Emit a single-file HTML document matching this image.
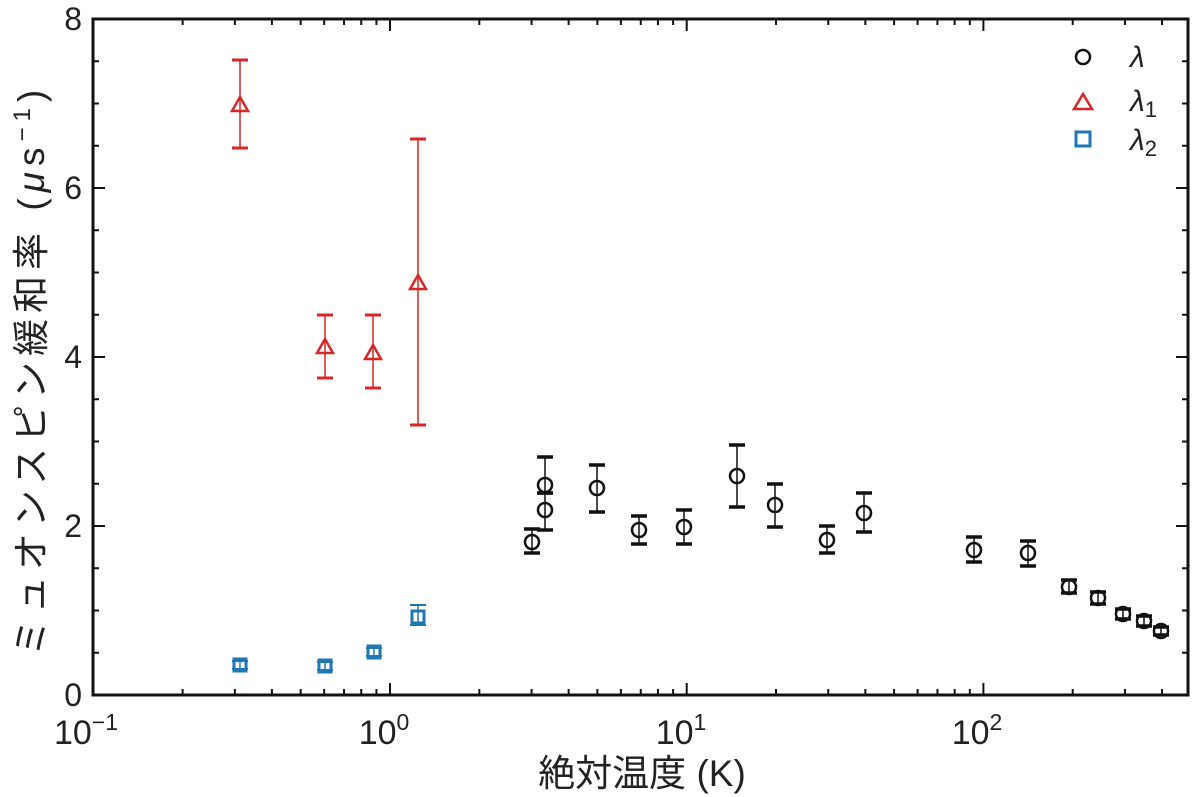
<!DOCTYPE html>
<html><head><meta charset="utf-8"><style>body{margin:0;background:#fff}svg{display:block}</style></head>
<body>
<svg width="1200" height="797" viewBox="0 0 1200 797" xmlns="http://www.w3.org/2000/svg" font-family="Liberation Sans, Noto Sans CJK JP, sans-serif">
<g id="ticks" stroke="#111" stroke-width="2"></g>
<rect x="93" y="19" width="1095" height="676" fill="none" stroke="#111" stroke-width="3"/>
<g font-size="32" fill="#222" text-anchor="end">
<text x="82" y="706">0</text><text x="82" y="537">2</text><text x="82" y="368">4</text><text x="82" y="199">6</text><text x="82" y="30">8</text>
</g>
<g font-size="34" fill="#222" text-anchor="middle">
<text x="86" y="744">10<tspan font-size="23" dy="-14">−1</tspan></text>
<text x="384" y="744">10<tspan font-size="23" dy="-14">0</tspan></text>
<text x="681" y="744">10<tspan font-size="23" dy="-14">1</tspan></text>
<text x="977" y="744">10<tspan font-size="23" dy="-14">2</tspan></text>
</g>
<text x="642" y="786" font-size="37" fill="#222" text-anchor="middle">絶対温度 (K)</text>
<text transform="translate(44,370) rotate(-90)" font-size="37" letter-spacing="6" fill="#222" text-anchor="middle">ミュオンスピン緩和率 (<tspan font-style="italic">μ</tspan>s<tspan font-size="24" dy="-14">−1</tspan><tspan dy="14">)</tspan></text>
<g id="data"></g>
<g font-size="30" font-style="italic" fill="#222">
<circle cx="1083" cy="57" r="7" fill="none" stroke="#111" stroke-width="2.5"/>
<text x="1130" y="67">λ</text>
<polygon points="1083,94 1092,109 1074,109" fill="none" stroke="#d62728" stroke-width="2.5"/>
<text x="1130" y="111">λ<tspan font-style="normal" font-size="22" dy="6">1</tspan></text>
<rect x="1076" y="132" width="14" height="14" fill="none" stroke="#1f77b4" stroke-width="3"/>
<text x="1130" y="150">λ<tspan font-style="normal" font-size="22" dy="6">2</tspan></text>
</g>
</svg>
<script>
const NS="http://www.w3.org/2000/svg";
function el(p,t,a){const e=document.createElementNS(NS,t);for(const k in a)e.setAttribute(k,a[k]);p.appendChild(e);return e;}
const tk=document.getElementById('ticks');
for(let i=1;i<16;i++){const y=695-i*42.25;const L=(i%4==0)?12:6;
el(tk,'line',{x1:93,x2:93+L,y1:y,y2:y});el(tk,'line',{x1:1188,x2:1188-L,y1:y,y2:y});}
const D=296.7;
for(let d=-1;d<3;d++)for(let m=1;m<10;m++){const x=390+(d+Math.log10(m))*D;if(x<=93||x>=1188)continue;const L=m==1?12:6;
el(tk,'line',{x1:x,x2:x,y1:695,y2:695-L});el(tk,'line',{x1:x,x2:x,y1:19,y2:19+L});}
const g=document.getElementById('data');
function eb(x,t,b,c,w){el(g,'line',{x1:x,x2:x,y1:t,y2:b,stroke:c,'stroke-width':1.5});
el(g,'line',{x1:x-8,x2:x+8,y1:t,y2:t,stroke:c,'stroke-width':w});el(g,'line',{x1:x-8,x2:x+8,y1:b,y2:b,stroke:c,'stroke-width':w});}
const red='#d62728',blue='#1f77b4';
[[240,105,60,148],[325,347,315,378],[373,353,315,388],[418,283,139,425]].forEach(p=>{eb(p[0],p[2],p[3],red,3);
el(g,'polygon',{points:`${p[0]},${p[1]-8} ${p[0]+8},${p[1]+6} ${p[0]-8},${p[1]+6}`,fill:'none',stroke:red,'stroke-width':2.5});});
[[240,665,661,669],[325,666,662,670],[374,652,648,656],[418,617,605,625]].forEach(p=>{eb(p[0],p[2],p[3],blue,2);
el(g,'rect',{x:p[0]-6,y:p[1]-6,width:12,height:12,fill:'none',stroke:blue,'stroke-width':3});});
[[532,542,529,553],[545,485,457,493],[545,510,493,530],[597,488,465,512],[639,530,516,544],[684,527,510,544],[737,476,445,507],[775,505,484,527],[827,540,526,553],[864,513,493,532],[974,550,537,562],[1028,553,541,566],[1069,587,580,593],[1098,598,592,604],[1123,614,609,619],[1144,621,616,626],[1161,631,627,635]].forEach(p=>{eb(p[0],p[2],p[3],'#111',3.5);
el(g,'circle',{cx:p[0],cy:p[1],r:7,fill:'none',stroke:'#111','stroke-width':2.5});});
</script>
</body></html>
